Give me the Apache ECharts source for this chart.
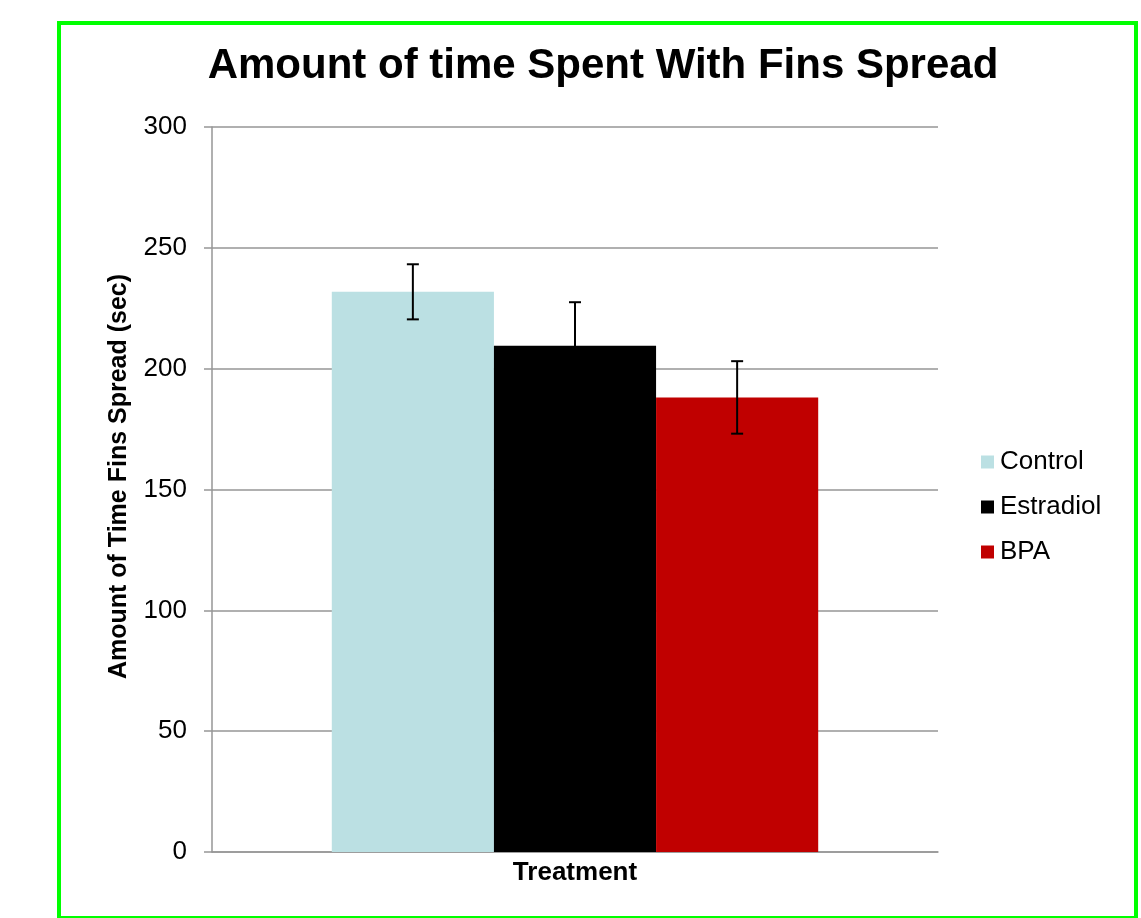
<!DOCTYPE html>
<html>
<head>
<meta charset="utf-8">
<title>Amount of time Spent With Fins Spread</title>
<script src="https://cdn.jsdelivr.net/npm/echarts@6/dist/echarts.min.js"></script>
<style>
  html, body { margin: 0; padding: 0; background: #fff; }
  #wrap { position: relative; width: 1141px; height: 918px; }
  #chart { position: absolute; left: 0; top: 0; width: 1141px; height: 918px; }
  #frame {
    position: absolute; left: 57px; top: 21px; width: 1081px; height: 899px;
    box-sizing: border-box; border: 4px solid #00ff00; pointer-events: none;
  }
</style>
</head>
<body>
<div id="wrap">
  <div id="chart"></div>
  <div id="frame"></div>
</div>
<script>
// data
const categories = ['']
const groupNames = ['Control', 'Estradiol', 'BPA']
const meanValues = [231.8, 209.5, 188.1]
const errorValues = [11.4, 18.0, 15.0]
const yTicks = { min: 0, max: 300, step: 50 }

const barColors = ['#BBE0E3', '#000000', '#C00000']
const fontFamily = 'Liberation Sans, Arial, sans-serif'
const gapRatio = 0.33

const chart = echarts.init(document.getElementById('chart'))

const barSeries = groupNames.map((name, i) => ({
  name: name,
  type: 'bar',
  data: [meanValues[i]],
  barGap: '0%',
  barCategoryGap: (gapRatio * 100) + '%',
  itemStyle: { color: barColors[i] },
  emphasis: { disabled: true }
}))

// error bars drawn on top of the bars
const errorSeries = {
  type: 'custom',
  name: 'error',
  z: 10,
  silent: true,
  encode: { x: 0, y: 1 },
  data: groupNames.map((n, i) => [0, meanValues[i], errorValues[i], i]),
  renderItem: (params, api) => {
    const idx = api.value(3)
    const mean = api.value(1)
    const err = api.value(2)
    const band = api.size([1, 0])[0]
    const barW = band * (1 - gapRatio) / groupNames.length
    const center = api.coord([0, mean])
    const x = center[0] + (idx - (groupNames.length - 1) / 2) * barW
    const top = api.coord([0, mean + err])[1]
    const bot = api.coord([0, mean - err])[1]
    const cap = 6
    const style = { stroke: '#000', lineWidth: 2 }
    return {
      type: 'group',
      children: [
        { type: 'line', shape: { x1: x, y1: top, x2: x, y2: bot }, style },
        { type: 'line', shape: { x1: x - cap, y1: top, x2: x + cap, y2: top }, style },
        { type: 'line', shape: { x1: x - cap, y1: bot, x2: x + cap, y2: bot }, style }
      ]
    }
  }
}

const option = {
  animation: false,
  textStyle: { fontFamily: fontFamily },
  title: {
    text: 'Amount of time Spent With Fins Spread',
    left: 598,
    textAlign: 'center',
    top: 40,
    textStyle: { fontSize: 42, fontWeight: 'bold', color: '#000', fontFamily: fontFamily }
  },
  legend: {
    orient: 'vertical',
    left: 976,
    top: 444,
    itemWidth: 13,
    itemHeight: 13,
    itemGap: 19,
    icon: 'rect',
    data: groupNames,
    textStyle: { fontSize: 26, color: '#000', fontFamily: fontFamily, padding: [0, 0, 0, 1] }
  },
  grid: { left: 212, right: 203, top: 127, bottom: 66 },
  xAxis: {
    type: 'category',
    data: categories,
    name: 'Treatment',
    nameLocation: 'middle',
    nameGap: 8,
    nameTextStyle: { fontSize: 26, fontWeight: 'bold', color: '#000', fontFamily: fontFamily },
    axisLine: { lineStyle: { color: '#969696', width: 1.5 } },
    axisTick: { show: false },
    axisLabel: { show: false }
  },
  yAxis: {
    type: 'value',
    min: yTicks.min,
    max: yTicks.max,
    interval: yTicks.step,
    name: 'Amount of Time Fins Spread (sec)',
    nameLocation: 'middle',
    nameRotate: 90,
    nameGap: 80,
    nameTextStyle: {
      fontSize: 25, fontWeight: 'bold', color: '#000', fontFamily: fontFamily,
      padding: [0, 0, 0, 26]
    },
    axisLine: { show: true, lineStyle: { color: '#969696', width: 1.5 } },
    axisTick: { show: true, length: 8, lineStyle: { color: '#969696', width: 1.5 } },
    axisLabel: { fontSize: 26, color: '#000', margin: 25, fontFamily: fontFamily },
    splitLine: { lineStyle: { color: '#969696', width: 1.5 } }
  },
  series: [...barSeries, errorSeries]
}

chart.setOption(option)
</script>
</body>
</html>
